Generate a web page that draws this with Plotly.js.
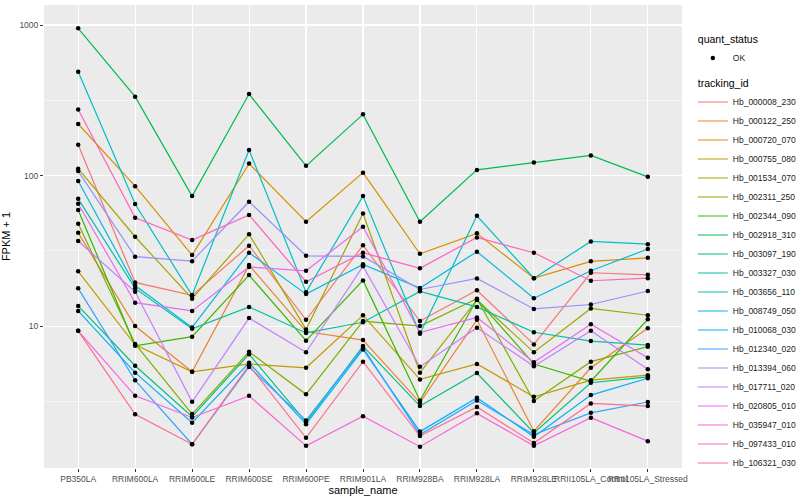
<!DOCTYPE html>
<html>
<head>
<meta charset="utf-8">
<script src="https://cdn.plot.ly/plotly-3.0.1.min.js"></script>
<style>html,body{margin:0;padding:0;background:#fff}#chart{width:800px;height:500px}</style>
</head>
<body>
<div id="chart"></div>
<script>
// ---- DATA (FPKM + 1) ----
const samples = ["PB350LA","RRIM600LA","RRIM600LE","RRIM600SE","RRIM600PE","RRIM901LA","RRIM928BA","RRIM928LA","RRIM928LE","RRII105LA_Control","RRII105LA_Stressed"];
const trackingIds = ["Hb_000008_230","Hb_000122_250","Hb_000720_070","Hb_000755_080","Hb_001534_070","Hb_002311_250","Hb_002344_090","Hb_002918_310","Hb_003097_190","Hb_003327_030","Hb_003656_110","Hb_008749_050","Hb_010068_030","Hb_012340_020","Hb_013394_060","Hb_017711_020","Hb_020805_010","Hb_035947_010","Hb_097433_010","Hb_106321_030"];
const Hb_000008_230 = [160, 19.5, 16, 34.2, 11, 34.4, 10.8, 17.3, 7.55, 22.6, 21.9];
const Hb_000122_250 = [41.6, 10, 4.97, 25.4, 9.2, 8.07, 3.1, 11.0, 2.0, 5.28, 9.66];
const Hb_000720_070 = [220, 85, 29.6, 120, 49.3, 104.5, 30.2, 41.3, 20.8, 26.9, 28.4];
const Hb_000755_080 = [23.1, 7.5, 4.97, 5.6, 5.28, 11.8, 4.42, 5.6, 3.39, 4.37, 4.72];
const Hb_001534_070 = [111, 39.2, 15.2, 40.8, 9.5, 56, 4.9, 14.9, 6.69, 13.1, 11.8];
const Hb_002311_250 = [47.8, 7.6, 2.6, 6.75, 3.52, 10.8, 10, 15.2, 3.18, 5.8, 7.3];
const Hb_002344_090 = [59, 7.4, 8.5, 21.8, 8, 20.1, 3.2, 15, 5.6, 4.3, 11.1];
const Hb_002918_310 = [950, 334, 73, 348, 116, 255, 49.3, 109, 122, 136, 98];
const Hb_003097_190 = [13.6, 5.45, 2.5, 6.5, 2.3, 7.36, 2.94, 4.87, 1.95, 4.2, 4.6];
const Hb_003327_030 = [70, 17.8, 9.6, 13.4, 9.0, 10.6, 17, 13.4, 9.1, 7.95, 7.48];
const Hb_003656_110 = [490, 64.7, 16, 148, 16.8, 73, 8.9, 54, 20.8, 36.5, 35];
const Hb_008749_050 = [92, 18.6, 9.8, 30.7, 16.3, 25.7, 17.9, 31.2, 15.3, 23.3, 32.5];
const Hb_010068_030 = [12.6, 4.9, 2.28, 5.7, 2.23, 7.0, 1.99, 3.34, 1.84, 3.48, 4.5];
const Hb_012340_020 = [17.8, 4.36, 1.64, 5.35, 2.36, 7.2, 1.9, 3.2, 1.9, 2.65, 3.13];
const Hb_013394_060 = [107, 28.9, 27, 67, 29.3, 29, 17.5, 20.7, 13, 13.9, 17.1];
const Hb_017711_020 = [36.7, 16.9, 3.14, 11.3, 6.7, 25, 5.37, 9.75, 5.4, 9.3, 5.17];
const Hb_020805_010 = [65, 14.3, 12.6, 24.7, 23.3, 45.7, 9.05, 11.4, 5.75, 10.3, 6.16];
const Hb_035947_010 = [9.3, 3.44, 2.47, 3.44, 1.6, 2.52, 1.58, 2.63, 1.6, 2.46, 1.72];
const Hb_097433_010 = [275, 52.4, 37.3, 54.7, 19.7, 30.7, 24.2, 38.8, 30.7, 20, 20.8];
const Hb_106321_030 = [9.3, 2.59, 1.64, 5.5, 1.81, 5.8, 1.86, 2.9, 1.67, 3.06, 2.94];
const seriesValues = [Hb_000008_230,Hb_000122_250,Hb_000720_070,Hb_000755_080,Hb_001534_070,Hb_002311_250,Hb_002344_090,Hb_002918_310,Hb_003097_190,Hb_003327_030,Hb_003656_110,Hb_008749_050,Hb_010068_030,Hb_012340_020,Hb_013394_060,Hb_017711_020,Hb_020805_010,Hb_035947_010,Hb_097433_010,Hb_106321_030];
const yTickVals = [10, 100, 1000];
const yTickText = ["10", "100", "1000"];
const yMinorVals = [3.162, 31.62, 316.2];

// ggplot2 hue palette for 20 levels
const palette = ["#F8766D","#EA8331","#D89000","#C09B00","#A3A500","#7CAE00","#39B600","#00BB4E","#00BF7D","#00C1A3","#00BFC4","#00BAE0","#00B0F6","#35A2FF","#9590FF","#C77CFF","#E76BF3","#FA62DB","#FF62BC","#FF6C91"];

const FONT = '"Liberation Sans", Arial, Helvetica, sans-serif';
const traces = [];
trackingIds.forEach((id, i) => {
  traces.push({
    type: 'scatter', mode: 'lines', x: samples, y: seriesValues[i], name: id,
    line: {color: palette[i], width: 1.2},
    legendgroup: 'tracking', legendrank: 100 + i,
    legendgrouptitle: i === 0 ? {text: 'tracking_id', font: {size: 10.5, color: '#000', family: FONT}} : undefined,
    hoverinfo: 'skip'
  });
});
const allX = [], allY = [];
seriesValues.forEach(vals => vals.forEach((v, j) => { allX.push(samples[j]); allY.push(v); }));
traces.push({
  type: 'scatter', mode: 'markers', x: allX, y: allY, name: 'OK',
  marker: {color: '#000', size: 4.5},
  legendgroup: 'quant', legendrank: 1,
  legendgrouptitle: {text: 'quant_status', font: {size: 10.5, color: '#000', family: FONT}}
});

const layout = {
  width: 800, height: 500,
  margin: {l: 44, r: 118, t: 5, b: 32},
  paper_bgcolor: '#fff', plot_bgcolor: '#EBEBEB',
  font: {family: FONT, color: '#000'},
  showlegend: true,
  xaxis: {
    type: 'category', range: [-0.6, 10.6], showgrid: true, gridcolor: '#fff', gridwidth: 1.1,
    zeroline: false, showline: false, ticks: 'outside', ticklen: 3, tickcolor: '#333', tickwidth: 1,
    tickangle: 0, tickfont: {size: 8.5, color: '#4D4D4D', family: FONT},
    title: {text: 'sample_name', font: {size: 11, color: '#000', family: FONT}, standoff: 3},
    automargin: false
  },
  yaxis: {
    type: 'log', range: [0.057, 3.133], tickmode: 'array', tickvals: yTickVals, ticktext: yTickText,
    showgrid: true, gridcolor: '#fff', gridwidth: 1.1, zeroline: false, showline: false,
    ticks: 'outside', ticklen: 3, tickcolor: '#333', tickfont: {size: 8.5, color: '#4D4D4D', family: FONT},
    minor: {tickmode: 'array', tickvals: yMinorVals, showgrid: true, gridcolor: '#fff', gridwidth: 0.5, ticks: ''},
    title: {text: 'FPKM + 1', font: {size: 11, color: '#000', family: FONT}, standoff: 6},
    automargin: false
  },
  legend: {
    xref: 'container', yref: 'container', x: 0.866, y: 0.951, xanchor: 'left', yanchor: 'top',
    maxheight: 490,
    bgcolor: 'rgba(255,255,255,0)', font: {size: 8.5, color: '#1a1a1a', family: FONT},
    traceorder: 'grouped', tracegroupgap: 6, itemwidth: 30
  }
};
Plotly.newPlot('chart', traces, layout, {displayModeBar: false, staticPlot: true});
</script>
</body>
</html>
